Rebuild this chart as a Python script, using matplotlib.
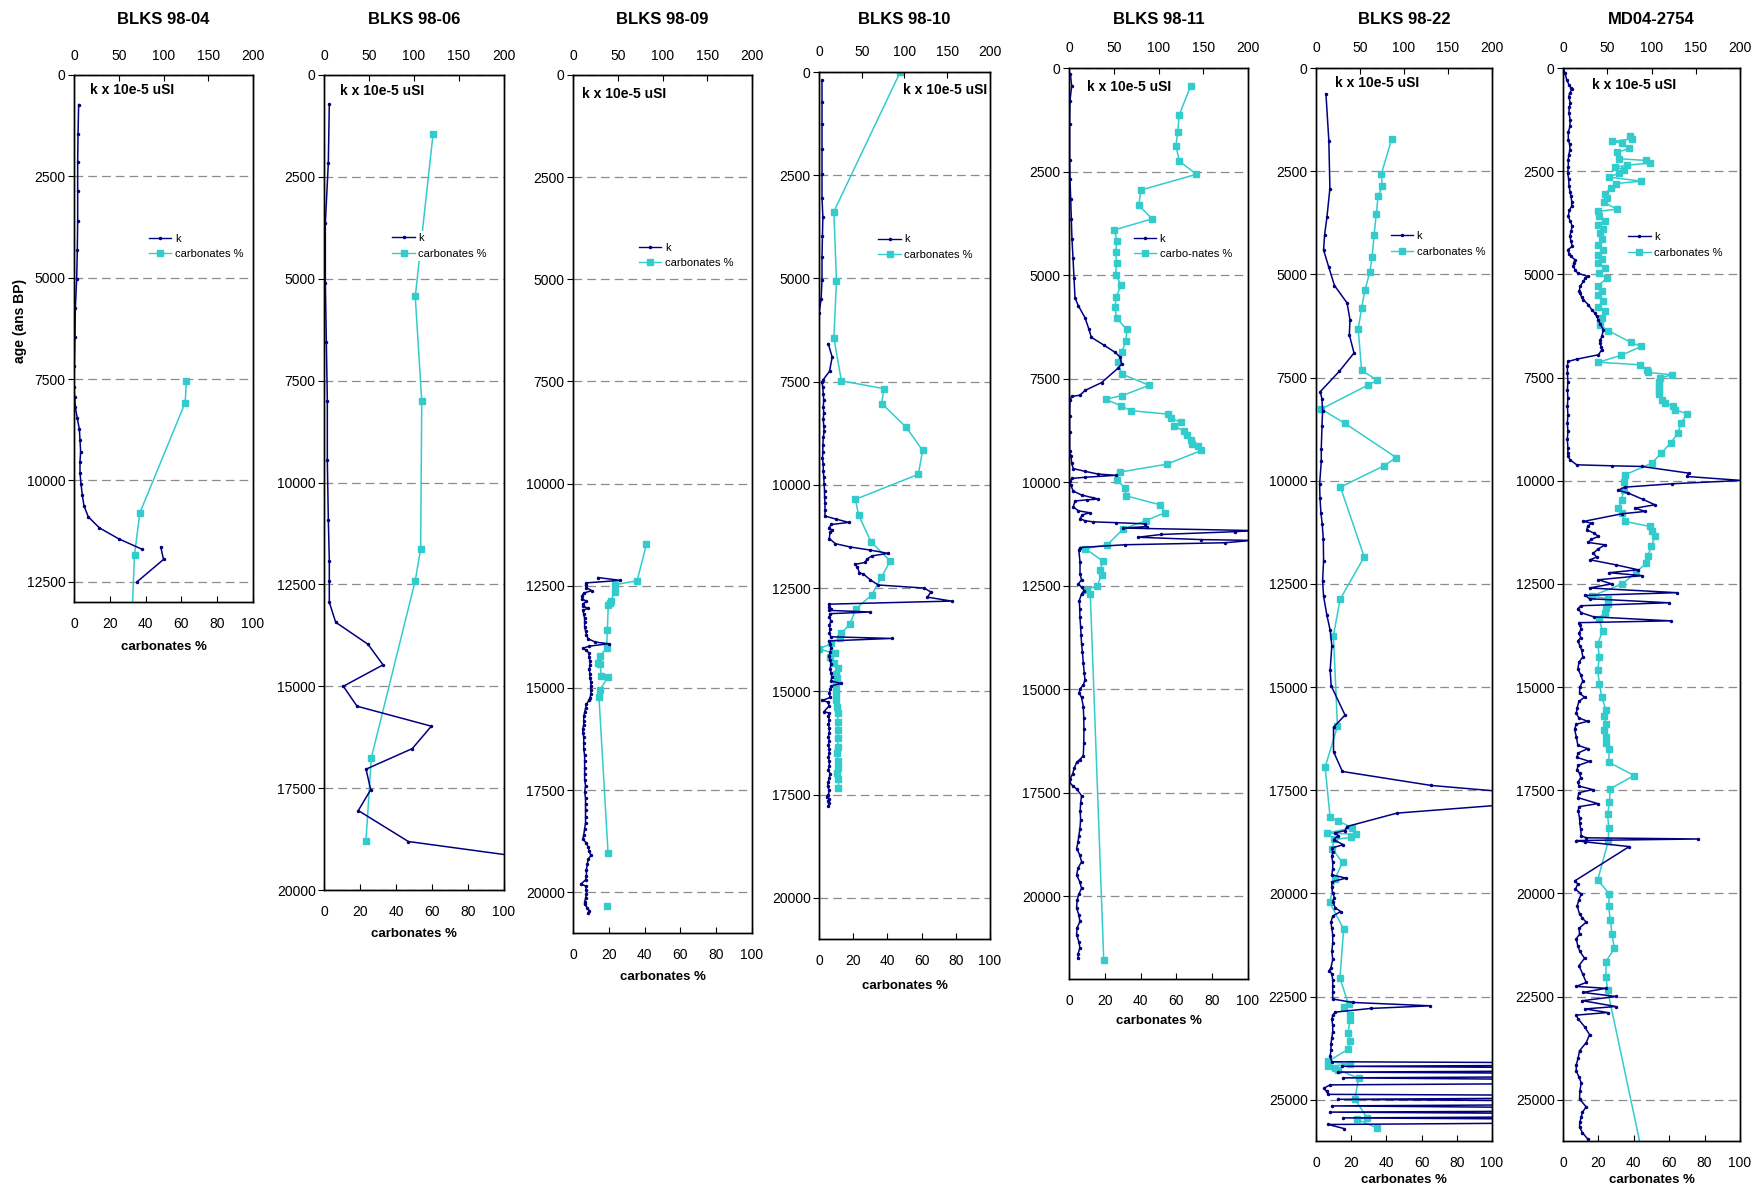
import numpy as np
import matplotlib.pyplot as plt
from matplotlib.lines import Line2D
from matplotlib.transforms import ScaledTranslation

plt.rcParams['font.family'] = ['Liberation Sans', 'DejaVu Sans']

nan = np.nan
NAVY = '#000080'
TEAL = '#33CCCC'

# ---------------- BLKS 98-04
k_age_04 = [730, 1450, 2150, 2870, 3600, 4320, 5030, 5740, 6460, 7190,
            7690, 7940, 8200, 8470, 8740, 9010, 9290, 9540, 9810, 10080,
            10370, 10630, 10900, 11170, 11440, 11700, nan, 11650, 11950, 12500]
k_04 = [5.2, 4.5, 4.1, 4.1, 4.1, 3.7, 3.0, 1.5, 1.1, 0.4,
        0.0, 0.7, 1.5, 3.7, 6.0, 6.7, 7.4, 6.7, 6.7, 7.8,
        9.3, 11.2, 16.0, 28.3, 49.8, 76.2, nan, 97.0, 100.0, 70.6]
carb_age_04 = [7550, 8085, 10800, 11830, 14000]
carb_04 = [62.8, 62.1, 36.8, 33.8, 31.8]

# ---------------- BLKS 98-06
k_age_06 = [715, 2160, 3630, 5110, 6550, 8000, 9460, 10915, 11915, 12405,
            12940, 13430, 13970, 14475, 15000, 15490, 15980, 16530, 17035, 17540,
            18050, 18810, 19135]
k_06 = [5.9, 4.8, 1.5, 1.5, 2.6, 3.7, 3.7, 4.8, 5.9, 5.9,
        5.9, 13.0, 48.9, 65.6, 21.5, 36.7, 119.3, 98.1, 46.7, 51.9,
        38.1, 93.7, 202.0]
carb_age_06 = [1445, 5435, 8000, 11630, 12405, 16755, 18795]
carb_06 = [60.6, 50.7, 54.3, 53.7, 50.7, 26.3, 23.3]

# ---------------- BLKS 98-09
k_age_09 = [12300, 12370, 12430, 12480, 12550, 12620, 12680, 12750, 12820, 12880,
            12950, 13000, 13050, 13100, 13200, 13300, 13400, 13500, 13600, 13700,
            13800, 13880, 13920, 13980, 14030, 14080, 14150, 14250, 14350, 14450,
            14550, 14650, 14750, 14850, 14950, 15050, 15150, 15250, 15300, 15400,
            15500, 15600, 15700, 15800, 15900, 16000, 16100, 16200, 16350, 16500,
            16650, 16800, 16950, 17100, 17250, 17400, 17550, 17700, 17850, 18000,
            18150, 18300, 18450, 18600, 18700, 18800, 18900, 19000, 19100, 19200,
            19300, 19450, 19600, 19700, 19800, 19850, 19950, 20050, 20150, 20250,
            20300, 20380, 20450, 20520]
k_09 = [28, 53, 15, 14, 15, 21, 12, 10, 10, 15,
        11, 11, 17, 11, 12, 13, 13, 13, 14, 15,
        17, 25, 40, 18, 11, 15, 18, 18, 19, 19,
        18, 19, 19, 20, 20, 20, 20, 19, 18, 15,
        14, 13, 12, 12, 12, 11, 11, 12, 12, 12,
        13, 13, 13, 13, 13, 14, 13, 14, 14, 14,
        14, 14, 13, 12, 11, 15, 17, 18, 20, 17,
        16, 15, 15, 14, 9, 14, 15, 15, 14, 13,
        13, 16, 18, 17]
carb_age_09 = [11490, 12380, 12475, 12660, 12865, 12930, 12975, 13580, 14035, 14210,
               14380, 14410, 14710, 14740, 15050, 15220, 19050, nan, 20330]
carb_09 = [41.0, 35.8, 23.5, 23.5, 21.0, 20.5, 19.7, 19.2, 18.8, 15.1,
           14.0, 15.1, 15.8, 19.4, 15.1, 14.5, 19.6, nan, 19.0]

# ---------------- BLKS 98-10
k_age_10 = [190, 730, 1250, 1870, 2460, 3040, 3510, 3975, 4490, 5035, 5500, 5845, nan,
            6580, 6905, 7250, 7450, 7515, 7640, 7800, 7950, 8105, 8250,
            8400, 8575, 8700, 8850, 9040, 9200, 9355, 9500, 9665, 9800,
            9975, 10150, 10290, 10450, 10600, 10755,
            10830, 10910, 10960, 11040, 11100, 11145, 11300, 11425, 11505, 11580,
            11660, 11720, 11800, 11880, 11925, 12000, 12130, 12160, 12300, 12425,
            12500, 12595, 12720, 12815, 12890,
            12950, 13000, 13040, 13080, 13120, 13200, 13300, 13400, 13500, 13600,
            13680, 13720, 13780, 13850, 13950, 14050, 14150, 14250, 14350, 14450,
            14550, 14650, 14750, 14810, 14870, 14950, 15050, 15150, 15220, 15260,
            15350, 15490, 15530, 15600, 15700, 15800, 15900, 16000, 16100, 16200,
            16300, 16400, 16500, 16600, 16700, 16800, 16900, 17000, 17100, 17200,
            17300, 17400, 17500, 17550, 17600, 17650, 17700, 17770]
k_10 = [3.5, 3.5, 3.5, 3.5, 3.5, 3.5, 4.5, 4.0, 3.5, 3.5, 2.5, 0.0, nan,
        10.8, 15.4, 12.3, 5.0, 3.5, 4.5, 5.0, 5.5, 5.0, 5.5,
        5.0, 5.5, 6.0, 5.0, 4.5, 4.5, 4.0, 5.0, 5.0, 5.5,
        6.0, 6.5, 6.5, 7.0, 7.0, 7.0,
        20.0, 35.0, 14.6, 11.5, 15.4, 13.0, 12.0, 19.2, 36.5, 60.0,
        80.8, 62.0, 56.0, 53.8, 42.3, 45.0, 47.3, 51.9, 60.0, 69.2,
        123.0, 130.8, 126.9, 155.0, 11.5,
        12.0, 14.0, 12.0, 60.0, 13.0, 12.0, 14.0, 12.0, 13.0, 12.0,
        14.0, 85.0, 12.0, 13.0, 14.0, 13.0, 12.0, 13.0, 14.0, 13.0,
        14.0, 15.0, 14.0, 26.0, 14.0, 13.0, 12.0, 13.0, 4.0, 10.0,
        12.0, 6.0, 12.0, 11.0, 12.0, 11.0, 12.0, 12.0, 11.0, 12.0,
        11.0, 12.0, 12.0, 11.0, 12.0, 12.0, 11.0, 13.0, 12.0, 11.0,
        10.0, 12.0, 11.0, 9.0, 12.0, 11.0, 12.0, 11.0]
carb_age_10 = [0, 3380, 5065, 6440, 7480, 7670, 8030, 8605, 9165, 9745,
               10350, 10725, 11380, 11845, 12235, 12660, 13000, 13360, 13600, 13700,
               13840, 13978, 14083, 14180, 14310, 14445, 14570, 14690, 14810, 14970,
               15090, 15210, 15375, 15535, 15735, 15940, 16140, 16345, 16505, 16680,
               16870, 16990, 17135, 17350]
carb_10 = [47.5, 8.7, 10.2, 8.7, 13.1, 37.9, 36.7, 51.0, 60.6, 58.1,
           21.3, 23.1, 30.4, 41.7, 36.5, 31.0, 21.7, 18.1, 13.1, 12.5,
           7.1, 0.0, 9.5, 6.7, 8.7, 11.0, 10.0, 10.6, 10.2, 9.8,
           10.0, 10.2, 10.6, 11.0, 11.0, 11.4, 11.0, 11.0, 10.6, 11.0,
           11.4, 10.6, 11.4, 11.4]

# ---------------- BLKS 98-11
k_age_11 = [137, 432, 785, 1357, 2214, 2690, 3167, 3643, 4120, 4596,
            5072, 5549, 5740, 6026, 6311, 6502, 6692, 6864, 6978, 7150,
            7245, 7597, 7788, 7902, 7930, 8026, 8400, 8800, 9260, 9360,
            9550, 9674, 9740, 9807, 9836, 9884, 9912, 9979, 10074, 10217,
            10312, 10379, 10407, 10430, 10455, 10598, 10693, 10741, 10790, 10884,
            10932, 10960, 10980, 11008, 11075, 11110, 11170, 11198, 11265, 11332,
            11389, 11408, 11465, 11513, 11580,
            11646, 11932, 12218, 12360, 12460, 12540, 12620, 12700, 12860, 13060,
            13260, 13500, 13700, 13900, 14100, 14380, 14600, 14780, 14900, 15000,
            15100, 15200, 15420, 15700, 15970, 16300, 16610, 16700, 16770, 16900,
            17050, 17170, 17250, 17330, 17410, 17570, 17750, 17950, 18150, 18370,
            18550, 18700, 18850, 19000, 19170, 19330, 19490, 19650, 19810, 19950,
            20100, 20290, 20450, 20610, 20770, 20930, 21100, 21250, 21400, 21490]
k_11 = [1.5, 3.0, 1.1, 0.7, 0.7, 1.1, 1.9, 2.6, 3.3, 4.5,
        5.6, 6.7, 10.4, 17.8, 22.3, 24.9, 39.0, 51.3, 57.0, 58.7,
        55.0, 36.4, 17.8, 12.3, 3.0, 1.1, 0.7, 0.7, 0.7, 2.2,
        3.0, 4.8, 17.8, 32.7, 53.0, 17.8, 3.0, 1.1, 1.9, 4.8,
        14.0, 27.0, 32.7, 20.0, 6.7, 4.8, 10.4, 23.4, 15.0, 12.3,
        17.8, 27.0, 53.0, 84.8, 86.6, 60.0, 205.0, 185.0, 103.0, 77.0,
        148.0, 205.0, 174.0, 62.5, 12.3,
        11.0, 12.3, 12.3, 14.0, 10.4, 14.0, 17.0, 14.0, 11.5, 12.0,
        12.2, 13.0, 13.5, 14.0, 15.0, 16.0, 17.0, 17.8, 16.0, 12.0,
        11.5, 14.0, 16.0, 16.5, 16.7, 16.5, 16.0, 12.0, 8.5, 6.0,
        4.0, 1.1, 0.5, 4.0, 8.5, 14.0, 13.0, 12.5, 13.0, 12.2,
        11.0, 10.0, 8.5, 12.0, 14.0, 10.0, 8.5, 12.0, 14.0, 11.0,
        9.0, 8.5, 11.0, 12.2, 9.0, 8.5, 11.0, 12.2, 10.0, 10.4]
carb_age_11 = [432, 1140, 1547, 1880, 2252, 2567, 2948, 3319, 3643, 3910,
               4167, 4453, 4710, 4996, 5244, 5520, 5778, 6044, 6311, 6597,
               6854, 7102, 7388, 7664, 7911, 7997, 8159, 8274, 8360, 8464,
               8550, 8646, 8760, 8865, 8979, 9074, 9131, 9236, 9569, 9760,
               9950, 10150, 10331, 10551, 10742, 10932, 11132, 11513, 11608, 11913,
               12122, 12246, 12504, 12599, 12713, 21530]
carb_11 = [68.0, 61.5, 60.8, 59.7, 61.7, 71.2, 40.1, 39.0, 46.5, 25.3,
           26.8, 26.0, 26.6, 26.0, 29.2, 26.4, 25.7, 26.6, 32.3, 31.8,
           29.5, 27.5, 29.4, 44.8, 29.7, 20.4, 29.0, 34.6, 55.4, 56.9,
           62.3, 58.7, 64.0, 66.2, 68.4, 68.8, 72.0, 74.0, 54.5, 28.3,
           27.0, 31.2, 31.8, 51.1, 53.5, 42.9, 30.3, 21.4, 9.1, 19.1,
           17.3, 18.2, 15.8, 9.9, 11.9, 19.4]

# ---------------- BLKS 98-22
k_age_22 = [624, 1763, 2920, 3618, 4040, 4408, 4812, 5271, 5693, 6097,
            6465, 6906, 7346, 7842, 8026, 8301, 8669, 9220, 9532, 10083,
            10413, 10780, 11056, 11423, 11938, 12433, 12800, 13260, 13627, 13994,
            14582, 14968, 15680, 15975, 16565, 17046, 17385, 17530, 17860, 18055,
            18380, 18480, 18530, 18600, 18700, 18820, 18900, 19000, 19100, 19250,
            19400, 19550, 19630, 19720, 19850, 20000, 20100, 20200, 20350, 20440,
            20550, 20700, 20850, 21000, 21200, 21400, 21600, 21800, 21870, 21950,
            22100, 22250, 22400, 22560, 22643, 22724, 22788, 22877, 22950, 23050,
            23200, 23350, 23500, 23650, 23800, 23950, 24080, 24133, 24190, 24269,
            24330, 24404, 24470, 24567, 24640, 24720, 24800, 24870, 24919, 24990,
            25081, 25150, 25244, 25300, 25379, 25440, 25514, 25600, 25700]
k_22 = [11.3, 14.6, 15.8, 12.4, 9.8, 8.6, 14.3, 21.0, 35.3, 38.6,
        37.9, 43.2, 26.6, 4.9, 6.8, 7.5, 6.8, 6.0, 6.0, 4.1,
        4.5, 5.6, 7.1, 8.3, 8.6, 7.5, 8.6, 12.4, 16.1, 18.0,
        16.1, 17.2, 33.0, 19.9, 19.9, 30.0, 131.0, 210.0, 210.0, 92.0,
        35.0, 33.0, 22.0, 25.0, 20.0, 31.0, 18.0, 19.0, 18.0, 19.0,
        19.0, 18.0, 34.0, 18.0, 18.0, 19.0, 21.0, 19.0, 22.0, 28.0,
        19.0, 17.0, 18.0, 19.0, 19.0, 18.0, 19.0, 17.0, 15.0, 18.0,
        19.0, 19.0, 19.0, 19.0, 42.0, 130.0, 62.0, 22.0, 19.0, 18.0,
        19.0, 19.0, 18.0, 17.0, 17.0, 16.0, 18.0, 600.0, 30.0, 600.0,
        25.0, 600.0, 31.0, 600.0, 16.0, 9.0, 12.0, 14.0, 600.0, 25.0,
        600.0, 18.0, 600.0, 16.0, 600.0, 31.0, 600.0, 14.0, 32.0]
carb_age_22 = [1726, 2571, 2865, 3104, 3526, 4040, 4573, 4940, 5381, 5822,
               6318, 7328, 7567, 7677, 8264, 8613, 9440, 9642, 10156, 11846,
               12874, 13756, 15950, 16940, 18152, 18241, 18411, 18540, 18564, 18645,
               18693, 18928, 19251, 19655, 20220, 20866, 22053, 22692, 22756, 22942,
               23063, 23386, 23588, 23774, 24073, 24137, 24194, 24234, 24275, 24477,
               24985, 25446, 25470, 25688]
carb_22 = [43.0, 37.1, 37.7, 35.3, 34.3, 33.0, 31.9, 30.6, 27.8, 25.9,
           24.0, 25.9, 34.9, 29.8, 3.0, 16.5, 45.6, 38.5, 13.9, 27.4,
           13.7, 9.9, 12.2, 5.2, 8.0, 12.3, 20.6, 6.1, 22.7, 20.1,
           10.2, 9.3, 15.1, 10.6, 7.8, 15.7, 13.6, 18.5, 15.7, 19.3,
           19.3, 18.2, 19.5, 18.4, 6.7, 19.3, 7.0, 10.8, 12.5, 24.2,
           22.1, 29.1, 23.1, 34.8]

# ---------------- MD04-2754
k_age_2754 = [0, 125, 286, 407, 488, 512, 609, 700, 851, 950,
              1093, 1250, 1417, 1550, 1740, 1850, 1982, 2100, 2224, 2400,
              2547, 2700, 2870, 3000, 3113, 3250, 3355, 3450, 3597, 3700,
              3840, 3950, 4082, 4200, 4324, 4405, 4500, 4566, 4647, 4730,
              4809, 4900, 4970, 5051, 5100, 5172, 5293, 5400, 5455, 5550,
              5617, 5738, 5859, 5940, 6020, 6101, 6200, 6344, 6505, 6600,
              6667, 6750, 6828, 6949, 7055, 7111, 7232, 7400, 7600, 7800,
              8000, 8200, 8400, 8600, 8800, 9000, 9200, 9332, 9413, 9494,
              9615, 9639, 9655, 9817, 9898, 9994, 10075, 10156, 10230, 10302,
              10450, 10584, 10665, 10745, 10802, 10988, 11028, 11100, 11190, 11270,
              11352, 11420, 11497, 11554, 11650, 11756, 11850, 11917, 12040, 12159,
              12230, 12300, 12401, 12500, 12600, 12714, 12780, 12860, 12958, 13030,
              13104, 13200, 13300, 13396, 13440, 13493, 13590, 13700, 13800, 13882,
              14000, 14100, 14272, 14400, 14564, 14700, 14856, 15000, 15148, 15245,
              15350, 15500, 15635, 15750, 15830, 15900, 16024, 16200, 16413, 16491,
              16600, 16705, 16803, 16900, 17000, 17095, 17200, 17300, 17400, 17484,
              17560, 17679, 17825, 17900, 18000, 18166, 18300, 18450, 18604, 18653,
              18682, 18720, 18750, 18866, 19700, 19772, 19900, 20015, 20150, 20300,
              20502, 20600, 20697, 20850, 20989, 21100, 21281, 21400, 21573, 21750,
              21962, 22157, 22254, 22300, 22400, 22498, 22600, 22741, 22800, 22887,
              22950, 23033, 23228, 23423, 23617, 23812, 24000, 24150, 24299, 24450,
              24591, 24800, 24980, 25175, 25300, 25418, 25550, 25662, 25800, 25954]
k_2754 = [0.0, 2.3, 4.2, 6.8, 9.0, 10.2, 7.5, 6.5, 8.3, 7.0,
          6.8, 8.0, 7.9, 6.0, 6.0, 7.5, 7.9, 6.5, 6.0, 6.0,
          5.3, 6.5, 6.8, 8.0, 9.0, 10.0, 9.8, 7.0, 6.0, 8.0,
          10.6, 9.0, 7.9, 9.0, 10.6, 5.3, 7.0, 9.0, 13.6, 12.0,
          11.7, 14.0, 16.6, 27.9, 25.0, 23.0, 19.2, 18.5, 19.2, 21.0,
          23.0, 28.7, 32.5, 36.2, 38.0, 40.0, 42.0, 45.7, 43.8, 42.0,
          41.9, 43.0, 43.8, 40.0, 15.5, 5.5, 5.0, 5.0, 5.5, 5.0,
          5.5, 5.0, 5.5, 5.0, 5.5, 5.0, 5.5, 5.5, 6.0, 7.9,
          15.5, 55.0, 89.0, 141.9, 140.0, 202.0, 123.0, 70.2, 62.0, 74.0,
          90.0, 104.0, 81.5, 92.8, 66.4, 23.0, 32.5, 28.0, 26.8, 35.0,
          40.0, 32.0, 28.7, 47.5, 40.0, 34.3, 38.0, 30.6, 60.0, 85.0,
          52.0, 89.0, 40.0, 55.0, 30.0, 129.0, 25.0, 30.0, 119.6, 20.0,
          16.8, 20.6, 35.0, 121.5, 18.0, 18.7, 20.6, 18.0, 20.0, 16.8,
          19.0, 21.0, 22.4, 18.0, 16.8, 20.0, 22.4, 19.0, 18.7, 24.3,
          18.0, 16.0, 15.0, 18.0, 28.0, 15.0, 13.1, 15.0, 16.8, 28.0,
          17.0, 15.7, 30.0, 17.0, 16.0, 18.7, 20.0, 17.0, 18.0, 33.6,
          18.0, 16.8, 39.3, 18.0, 17.0, 18.7, 19.0, 20.0, 20.6, 26.2,
          153.0, 15.0, 24.3, 74.8, 13.1, 16.8, 14.0, 20.6, 18.0, 16.0,
          18.7, 22.0, 26.2, 18.0, 18.7, 15.0, 16.8, 19.0, 24.3, 18.0,
          22.4, 26.2, 15.0, 48.6, 22.4, 59.8, 22.0, 59.8, 25.0, 50.5,
          15.0, 16.8, 24.3, 30.0, 26.2, 18.7, 17.0, 15.0, 15.0, 18.0,
          20.6, 19.0, 18.7, 26.2, 22.0, 20.6, 19.0, 18.7, 22.0, 28.0]
carb_age_2754 = [1643, 1716, 1780, 1820, 1950, 2047, 2200, 2240, 2305, 2353,
                 2402, 2467, 2550, 2644, 2741, 2800, 2900, 3056, 3150, 3250,
                 3420, 3476, 3598, 3700, 3799, 3900, 4001, 4150, 4284, 4400,
                 4526, 4620, 4728, 4850, 4970, 5091, 5293, 5400, 5496, 5650,
                 5794, 5899, 6050, 6239, 6368, 6651, 6747, 6960, 7130, 7192,
                 7313, 7378, 7434, 7515, 7600, 7700, 7800, 7900, 8040, 8120,
                 8200, 8282, 8379, 8605, 8847, 9090, 9332, 9575, 9857, 10043,
                 10221, 10463, 10665, 10786, 10988, 11109, 11230, 11352, 11594, 11836,
                 12000, 12227, 12500, 12792, 12860, 12987, 13084, 13200, 13347, 13639,
                 13960, 14272, 14583, 14934, 15245, 15557, 15713, 15907, 16044, 16199,
                 16365, 16511, 16822, 17144, 17465, 17796, 18088, 18409, 18730, 19675,
                 20015, 20307, 20648, 20989, 21330, 21651, 22021, 22352, 27000]
carb_2754 = [37.9, 39.2, 27.9, 33.2, 37.5, 30.4, 31.9, 46.8, 49.2, 36.4,
             29.4, 34.7, 31.5, 26.0, 44.2, 30.0, 27.0, 23.8, 25.0, 23.0,
             30.4, 19.6, 20.6, 23.5, 19.6, 22.5, 20.9, 22.0, 20.0, 22.8,
             19.6, 22.3, 19.6, 23.5, 20.5, 24.7, 19.6, 21.8, 19.6, 22.8,
             19.6, 23.8, 22.0, 20.9, 25.7, 38.5, 44.2, 33.0, 20.0, 43.6,
             47.4, 48.3, 61.5, 54.7, 54.3, 54.5, 54.0, 54.5, 55.8, 57.7,
             61.9, 63.4, 70.0, 66.8, 64.9, 60.8, 55.5, 50.2, 35.1, 34.7,
             34.2, 33.2, 31.3, 33.2, 35.1, 49.2, 50.2, 52.1, 49.8, 47.9,
             47.0, 41.1, 33.6, 16.4, 25.2, 25.2, 24.3, 23.5, 20.2, 22.4,
             19.6, 20.6, 19.6, 20.6, 21.9, 24.3, 23.4, 24.3, 23.0, 24.3,
             24.2, 26.2, 25.8, 40.2, 26.7, 26.2, 25.2, 25.8, 25.6, 19.6,
             26.2, 25.8, 26.7, 27.7, 29.0, 24.3, 24.3, 25.2, 48.2]

# panel layout: box = (left, top, right, bottom) in pixels, xl = gap to "carbonates %"
panels = [
    dict(title='BLKS 98-04', ymax=13000, box=(74, 75, 253, 602), xl=45,
         k_age=k_age_04, k=k_04, c_age=carb_age_04, c=carb_04,
         leg=(0.431, 0.685), note=(16, 15, 'left'), clabel='carbonates %'),
    dict(title='BLKS 98-06', ymax=20000, box=(324, 75, 504, 890), xl=44,
         k_age=k_age_06, k=k_06, c_age=carb_age_06, c=carb_06,
         leg=(0.391, 0.797), note=(16, 16, 'left'), clabel='carbonates %'),
    dict(title='BLKS 98-09', ymax=21000, box=(573, 75, 752, 933), xl=44,
         k_age=k_age_09, k=k_09, c_age=carb_age_09, c=carb_09,
         leg=(0.381, 0.796), note=(9, 19, 'left'), clabel='carbonates %'),
    dict(title='BLKS 98-10', ymax=21000, box=(819, 72, 990, 939), xl=47,
         k_age=k_age_10, k=k_10, c_age=carb_age_10, c=carb_10,
         leg=(0.359, 0.804), note=(3, 18, 'right'), clabel='carbonates %'),
    dict(title='BLKS 98-11', ymax=22000, box=(1069, 68, 1248, 979), xl=42,
         k_age=k_age_11, k=k_11, c_age=carb_age_11, c=carb_11,
         leg=(0.375, 0.810), note=(18, 19, 'left'), clabel='carbo-nates %'),
    dict(title='BLKS 98-22', ymax=26000, box=(1316, 68, 1492, 1141), xl=39,
         k_age=k_age_22, k=k_22, c_age=carb_age_22, c=carb_22,
         leg=(0.437, 0.841), note=(19, 15, 'left'), clabel='carbonates %'),
    dict(title='MD04-2754', ymax=26000, box=(1563, 68, 1740, 1141), xl=39,
         k_age=k_age_2754, k=k_2754, c_age=carb_age_2754, c=carb_2754,
         leg=(0.380, 0.840), note=(29, 17, 'left'), clabel='carbonates %'),
]

W, H = 1753, 1190
fig = plt.figure(figsize=(W / 100, H / 100), dpi=100)
PT = 0.72  # points per pixel at dpi 100

for i, p in enumerate(panels):
    l, t, r, b = p['box']
    ax = fig.add_axes([l / W, 1 - b / H, (r - l) / W, (b - t) / H])
    axk = ax.twiny()

    ax.plot(p['c'], p['c_age'], color=TEAL, lw=1.1, marker='s', ms=4.8, mec=TEAL)
    axk.plot(p['k'], p['k_age'], color=NAVY, lw=1.1, marker='.', ms=3)

    ax.set_xlim(0, 100)
    axk.set_xlim(0, 200)
    ax.set_ylim(p['ymax'], 0)
    yt = np.arange(0, p['ymax'] + 1, 2500)
    ax.set_yticks(yt)
    ax.set_yticklabels([str(v) for v in yt])
    ax.set_xticks(range(0, 101, 20))
    axk.set_xticks(range(0, 201, 50))

    ax.set_axisbelow(True)
    ax.yaxis.grid(True, color='#8c8c8c', ls=(0, (7, 4)), lw=0.9)

    ax.tick_params(axis='x', direction='in', length=4, labelsize=10, pad=11, top=False)
    ax.tick_params(axis='y', direction='out', length=4, labelsize=10, pad=2)
    axk.tick_params(axis='x', direction='in', length=4, labelsize=10, pad=9)
    for a in (ax, axk):
        for s in a.spines.values():
            s.set_linewidth(1.0)
            s.set_color('black')

    dx, dy, side = p['note']
    if side == 'left':
        ax.annotate('k x 10e-5 uSI', xy=(0, 1), xycoords='axes fraction',
                    xytext=(dx * PT, -dy * PT), textcoords='offset points',
                    ha='left', va='center', fontsize=10, fontweight='bold')
    else:
        ax.annotate('k x 10e-5 uSI', xy=(1, 1), xycoords='axes fraction',
                    xytext=(-dx * PT, -dy * PT), textcoords='offset points',
                    ha='right', va='center', fontsize=10, fontweight='bold')

    ax.annotate('carbonates %', xy=(0.5, 0), xycoords='axes fraction',
                xytext=(0, -p['xl'] * PT), textcoords='offset points',
                ha='center', va='center', fontsize=9.5, fontweight='bold')

    fig.text((l + r) / 2 / W, 1 - 20 / H, p['title'], ha='center', va='center',
             fontsize=12, fontweight='bold')

    hk = Line2D([], [], color=NAVY, lw=1.0, marker='.', ms=3)
    hc = Line2D([], [], color=TEAL, lw=1.0, marker='s', ms=4.8)
    off = ScaledTranslation(-3 / 72, 7 / 72, fig.dpi_scale_trans)
    axk.legend([hk, hc], ['k', p['clabel']], loc='upper left',
               bbox_to_anchor=p['leg'], bbox_transform=axk.transAxes + off,
               fontsize=8, frameon=True, facecolor='white', edgecolor='none',
               framealpha=1, fancybox=False, borderpad=0.2, borderaxespad=0,
               handlelength=2.0, handletextpad=0.3, labelspacing=0.5)

fig.text(20 / W, 1 - 321 / H, 'age (ans BP)', rotation=90, ha='center', va='center',
         fontsize=10, fontweight='bold')

fig.savefig('out.png', dpi=100)
